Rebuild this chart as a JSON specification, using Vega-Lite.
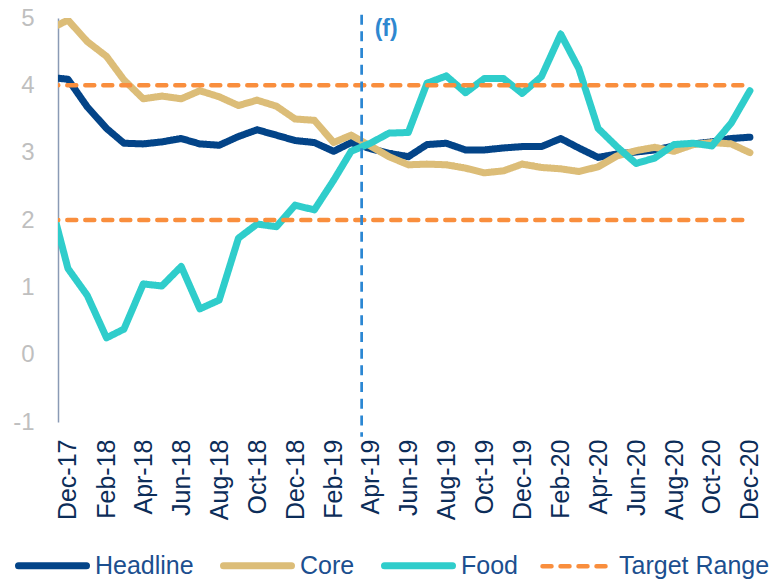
{
  "$schema": "https://vega.github.io/schema/vega-lite/v6.json",
  "width": 700,
  "height": 404,
  "autosize": {"type": "none"},
  "padding": {"left": 58, "top": 18, "right": 18, "bottom": 158},
  "config": {
    "view": {"stroke": null},
    "font": "Liberation Sans",
    "legend": {
      "orient": "none",
      "legendX": -18,
      "legendY": 535,
      "direction": "horizontal",
      "symbolType": "stroke",
      "symbolSize": 4624,
      "symbolStrokeWidth": 7,
      "labelFontSize": 25,
      "labelColor": "#1c4f8f",
      "labelFont": "Liberation Sans",
      "labelOffset": 30,
      "columnPadding": 15,
      "padding": 0,
      "labelLimit": 400
    }
  },
  "datasets": {
    "cpi": [
      {"date": "2017-11-01", "Headline": 4.12, "Core": 4.83, "Food": 2.34},
      {"date": "2017-12-01", "Headline": 4.09, "Core": 4.97, "Food": 1.28},
      {"date": "2018-01-01", "Headline": 3.68, "Core": 4.65, "Food": 0.88},
      {"date": "2018-02-01", "Headline": 3.36, "Core": 4.43, "Food": 0.25},
      {"date": "2018-03-01", "Headline": 3.14, "Core": 4.08, "Food": 0.38},
      {"date": "2018-04-01", "Headline": 3.13, "Core": 3.80, "Food": 1.05},
      {"date": "2018-05-01", "Headline": 3.16, "Core": 3.84, "Food": 1.02},
      {"date": "2018-06-01", "Headline": 3.21, "Core": 3.80, "Food": 1.31},
      {"date": "2018-07-01", "Headline": 3.13, "Core": 3.92, "Food": 0.68},
      {"date": "2018-08-01", "Headline": 3.11, "Core": 3.83, "Food": 0.81},
      {"date": "2018-09-01", "Headline": 3.24, "Core": 3.70, "Food": 1.73},
      {"date": "2018-10-01", "Headline": 3.34, "Core": 3.78, "Food": 1.94},
      {"date": "2018-11-01", "Headline": 3.26, "Core": 3.69, "Food": 1.90},
      {"date": "2018-12-01", "Headline": 3.18, "Core": 3.50, "Food": 2.22},
      {"date": "2019-01-01", "Headline": 3.15, "Core": 3.48, "Food": 2.15},
      {"date": "2019-02-01", "Headline": 3.02, "Core": 3.15, "Food": 2.59},
      {"date": "2019-03-01", "Headline": 3.15, "Core": 3.26, "Food": 3.02},
      {"date": "2019-04-01", "Headline": 3.06, "Core": 3.10, "Food": 3.14},
      {"date": "2019-05-01", "Headline": 2.99, "Core": 2.94, "Food": 3.29},
      {"date": "2019-06-01", "Headline": 2.94, "Core": 2.82, "Food": 3.30},
      {"date": "2019-07-01", "Headline": 3.12, "Core": 2.83, "Food": 4.03},
      {"date": "2019-08-01", "Headline": 3.14, "Core": 2.82, "Food": 4.14},
      {"date": "2019-09-01", "Headline": 3.04, "Core": 2.77, "Food": 3.89},
      {"date": "2019-10-01", "Headline": 3.04, "Core": 2.70, "Food": 4.10},
      {"date": "2019-11-01", "Headline": 3.07, "Core": 2.73, "Food": 4.10},
      {"date": "2019-12-01", "Headline": 3.09, "Core": 2.83, "Food": 3.88},
      {"date": "2020-01-01", "Headline": 3.09, "Core": 2.78, "Food": 4.13},
      {"date": "2020-02-01", "Headline": 3.21, "Core": 2.76, "Food": 4.76},
      {"date": "2020-03-01", "Headline": 3.07, "Core": 2.72, "Food": 4.25},
      {"date": "2020-04-01", "Headline": 2.93, "Core": 2.79, "Food": 3.36},
      {"date": "2020-05-01", "Headline": 2.98, "Core": 2.95, "Food": 3.09},
      {"date": "2020-06-01", "Headline": 3.01, "Core": 3.03, "Food": 2.84},
      {"date": "2020-07-01", "Headline": 3.04, "Core": 3.08, "Food": 2.92},
      {"date": "2020-08-01", "Headline": 3.10, "Core": 3.02, "Food": 3.12},
      {"date": "2020-09-01", "Headline": 3.13, "Core": 3.12, "Food": 3.14},
      {"date": "2020-10-01", "Headline": 3.16, "Core": 3.15, "Food": 3.10},
      {"date": "2020-11-01", "Headline": 3.21, "Core": 3.13, "Food": 3.44},
      {"date": "2020-12-01", "Headline": 3.23, "Core": 3.00, "Food": 3.92}
    ],
    "target": [
      {"date": "2017-11-01", "series": "Target Range", "level": "low", "value": 2},
      {"date": "2020-12-01", "series": "Target Range", "level": "low", "value": 2},
      {"date": "2017-11-01", "series": "Target Range", "level": "high", "value": 4},
      {"date": "2020-12-01", "series": "Target Range", "level": "high", "value": 4}
    ],
    "forecast": [
      {"date": "2019-03-18", "top": 5.05, "bottom": -1.22, "label": "(f)", "labelY": 4.84}
    ]
  },
  "encoding": {
    "x": {
      "field": "date",
      "type": "temporal",
      "scale": {
        "type": "utc",
        "domain": [
          {"year": 2017, "month": 11, "date": 15, "utc": true},
          {"year": 2020, "month": 12, "date": 14, "utc": true}
        ]
      },
      "axis": {
        "title": null,
        "grid": false,
        "ticks": false,
        "domain": false,
        "labelAngle": 270,
        "labelAlign": "right",
        "labelBaseline": "middle",
        "labelPadding": 17,
        "labelFontSize": 25,
        "labelColor": "#0c2d59",
        "labelFont": "Liberation Sans",
        "labelOverlap": false,
        "labelExpr": "utcFormat(datum.value, '%b-%y')",
        "values": [
          {"year": 2017, "month": 12, "date": 1, "utc": true},
          {"year": 2018, "month": 2, "date": 1, "utc": true},
          {"year": 2018, "month": 4, "date": 1, "utc": true},
          {"year": 2018, "month": 6, "date": 1, "utc": true},
          {"year": 2018, "month": 8, "date": 1, "utc": true},
          {"year": 2018, "month": 10, "date": 1, "utc": true},
          {"year": 2018, "month": 12, "date": 1, "utc": true},
          {"year": 2019, "month": 2, "date": 1, "utc": true},
          {"year": 2019, "month": 4, "date": 1, "utc": true},
          {"year": 2019, "month": 6, "date": 1, "utc": true},
          {"year": 2019, "month": 8, "date": 1, "utc": true},
          {"year": 2019, "month": 10, "date": 1, "utc": true},
          {"year": 2019, "month": 12, "date": 1, "utc": true},
          {"year": 2020, "month": 2, "date": 1, "utc": true},
          {"year": 2020, "month": 4, "date": 1, "utc": true},
          {"year": 2020, "month": 6, "date": 1, "utc": true},
          {"year": 2020, "month": 8, "date": 1, "utc": true},
          {"year": 2020, "month": 10, "date": 1, "utc": true},
          {"year": 2020, "month": 12, "date": 1, "utc": true}
        ]
      }
    }
  },
  "layer": [
    {
      "mark": {"type": "rule", "color": "#d9d9d9", "strokeWidth": 1.5},
      "encoding": {
        "x": null,
        "y": {
          "datum": 0,
          "type": "quantitative",
          "scale": {"domain": [-1, 5], "nice": false, "zero": false},
          "axis": {
            "title": null,
            "grid": false,
            "ticks": false,
            "domain": true,
            "domainColor": "#8a9ab5",
            "domainWidth": 1.5,
            "values": [-1, 0, 1, 2, 3, 4, 5],
            "labelExpr": "datum.value < 0 ? '-' + abs(datum.value) : '' + datum.value",
            "labelFontSize": 24,
            "labelColor": "#bfbfbf",
            "labelFont": "Liberation Sans",
            "labelPadding": 24
          }
        }
      }
    },
    {
      "data": {"name": "cpi"},
      "transform": [{"fold": ["Headline", "Core", "Food"], "as": ["series", "value"]}],
      "mark": {"type": "line", "clip": true, "strokeJoin": "round", "strokeCap": "round", "strokeWidth": 7},
      "encoding": {
        "y": {"field": "value", "type": "quantitative"},
        "color": {
          "field": "series",
          "type": "nominal",
          "title": null,
          "scale": {
            "domain": ["Headline", "Core", "Food", "Target Range"],
            "range": ["#034488", "#dcbd78", "#2fcdcb", "#f98e3d"]
          },
          "legend": {
            "title": null,
            "symbolType": "stroke",
            "encode": {
              "symbols": {
                "update": {
                  "strokeCap": {"value": "round"},
                  "strokeWidth": {"signal": "datum.value === 'Target Range' ? 4.5 : 7"}
                }
              }
            }
          }
        },
        "strokeDash": {
          "field": "series",
          "type": "nominal",
          "title": null,
          "scale": {
            "domain": ["Headline", "Core", "Food", "Target Range"],
            "range": [[1, 0], [1, 0], [1, 0], [9, 9]]
          }
        }
      }
    },
    {
      "data": {"name": "target"},
      "mark": {"type": "line", "clip": true, "strokeCap": "round", "strokeWidth": 4.5},
      "encoding": {
        "y": {"field": "value", "type": "quantitative"},
        "detail": {"field": "level", "type": "nominal"},
        "color": {"field": "series", "type": "nominal", "title": null},
        "strokeDash": {"field": "series", "type": "nominal", "title": null}
      }
    },
    {
      "data": {"name": "forecast"},
      "mark": {"type": "rule", "color": "#2b87d3", "strokeWidth": 2.7, "strokeDash": [10, 6.7], "clip": false},
      "encoding": {
        "y": {"field": "top", "type": "quantitative"},
        "y2": {"field": "bottom"}
      }
    },
    {
      "data": {"name": "forecast"},
      "mark": {"type": "text", "align": "left", "baseline": "middle", "dx": 13, "fontSize": 23, "fontWeight": "bold", "color": "#2e88d0", "font": "Liberation Sans"},
      "encoding": {
        "y": {"field": "labelY", "type": "quantitative"},
        "text": {"field": "label"}
      }
    }
  ]
}
